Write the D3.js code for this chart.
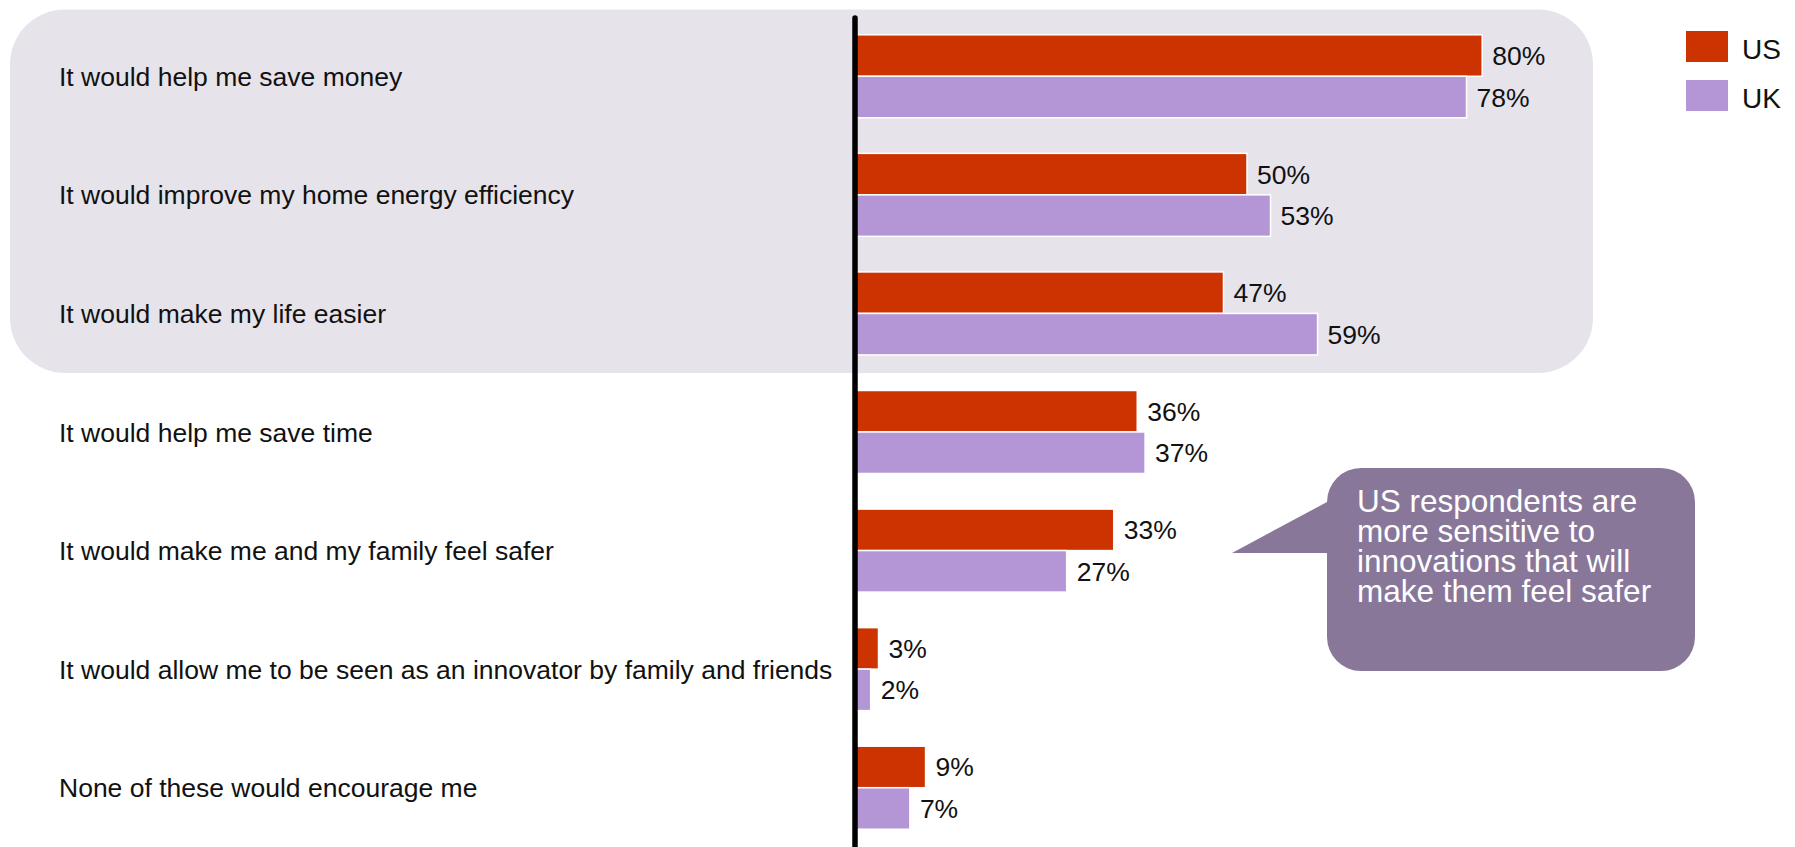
<!DOCTYPE html>
<html>
<head>
<meta charset="utf-8">
<script src="https://cdn.jsdelivr.net/npm/d3@7"></script>
<style>
  html, body { margin: 0; padding: 0; background: #ffffff; }
  svg { display: block; font-family: "Liberation Sans", Arial, Helvetica, sans-serif; }
</style>
</head>
<body>
<svg id="chart" width="1795" height="847"></svg>
<script>
const categories = [
  "It would help me save money",
  "It would improve my home energy efficiency",
  "It would make my life easier",
  "It would help me save time",
  "It would make me and my family feel safer",
  "It would allow me to be seen as an innovator by family and friends",
  "None of these would encourage me"
];
const seriesNames = ["US", "UK"];
const usValues = [80, 50, 47, 36, 33, 3, 9];
const ukValues = [78, 53, 59, 37, 27, 2, 7];
const seriesColors = ["#cc3300", "#b496d7"];
const highlightedCount = 3;
const calloutLines = [
  "US respondents are",
  "more sensitive to",
  "innovations that will",
  "make them feel safer"
];

const svg = d3.select("#chart");
const W = 1795, H = 847;

const x = d3.scaleLinear().domain([0, 100]).range([855, 1639]);
const y = d3.scaleBand().domain(categories).range([17, 847]).paddingInner(0.3).paddingOuter(0.15);
const ySub = d3.scaleBand().domain(seriesNames).range([0, y.bandwidth()]);
const color = d3.scaleOrdinal().domain(seriesNames).range(seriesColors);

const rows = categories.map((c, i) => ({
  category: c,
  values: [
    { series: "US", value: usValues[i] },
    { series: "UK", value: ukValues[i] }
  ]
}));

// highlight background panel behind the first three categories
const hlTop = 9.5;
const hlBottom = y(categories[highlightedCount - 1]) + y.bandwidth() + 18;
svg.append("rect")
  .attr("x", 10).attr("y", hlTop)
  .attr("width", 1593 - 10).attr("height", hlBottom - hlTop)
  .attr("rx", 55).attr("ry", 55)
  .attr("fill", "#e6e3eb");

// category labels
svg.append("g").selectAll("text")
  .data(categories)
  .join("text")
  .attr("x", 59)
  .attr("y", d => y(d) + y.bandwidth() / 2)
  .attr("dy", "0.36em")
  .attr("font-size", 26.5)
  .attr("fill", "#111")
  .text(d => d);

// bars
const groups = svg.append("g").selectAll("g")
  .data(rows)
  .join("g")
  .attr("transform", d => `translate(0,${y(d.category)})`);

groups.selectAll("rect")
  .data(d => d.values)
  .join("rect")
  .attr("x", x(0))
  .attr("y", d => ySub(d.series))
  .attr("width", d => x(d.value) - x(0))
  .attr("height", ySub.bandwidth())
  .attr("fill", d => color(d.series))
  .attr("stroke", "#ffffff")
  .attr("stroke-width", 1.5);

groups.selectAll("text")
  .data(d => d.values)
  .join("text")
  .attr("x", d => x(d.value) + 10)
  .attr("y", d => ySub(d.series) + ySub.bandwidth() / 2)
  .attr("dy", "0.36em")
  .attr("font-size", 26.5)
  .attr("fill", "#111")
  .text(d => d.value + "%");

// vertical axis line
svg.append("line")
  .attr("x1", x(0)).attr("x2", x(0))
  .attr("y1", y.range()[0] + 1).attr("y2", H + 5)
  .attr("stroke", "#000")
  .attr("stroke-width", 5.5)
  .attr("stroke-linecap", "round");

// legend
const legend = svg.append("g").selectAll("g")
  .data(seriesNames)
  .join("g")
  .attr("transform", (d, i) => `translate(1686,${31 + i * 49})`);
legend.append("rect")
  .attr("width", 42).attr("height", 31)
  .attr("fill", d => color(d));
legend.append("text")
  .attr("x", 56).attr("y", 28)
  .attr("font-size", 28)
  .attr("fill", "#111")
  .text(d => d);

// callout bubble
const bx0 = 1327, bx1 = 1695, by0 = 468, by1 = 671, r = 34;
const tipX = 1232, tipY = 553, joinY = 502;
const p = d3.path();
p.moveTo(bx0 + r, by0);
p.lineTo(bx1 - r, by0);
p.arcTo(bx1, by0, bx1, by0 + r, r);
p.lineTo(bx1, by1 - r);
p.arcTo(bx1, by1, bx1 - r, by1, r);
p.lineTo(bx0 + r, by1);
p.arcTo(bx0, by1, bx0, by1 - r, r);
p.lineTo(bx0, tipY);
p.lineTo(tipX, tipY);
p.lineTo(bx0, joinY);
p.lineTo(bx0, by0 + r);
p.arcTo(bx0, by0, bx0 + r, by0, r);
p.closePath();
svg.append("path")
  .attr("d", p.toString())
  .attr("fill", "#89779a");

svg.append("text")
  .attr("x", 1357)
  .attr("y", 512)
  .attr("font-size", 31.5)
  .attr("fill", "#ffffff")
  .selectAll("tspan")
  .data(calloutLines)
  .join("tspan")
  .attr("x", 1357)
  .attr("dy", (d, i) => i === 0 ? 0 : 30)
  .text(d => d);
</script>
</body>
</html>
